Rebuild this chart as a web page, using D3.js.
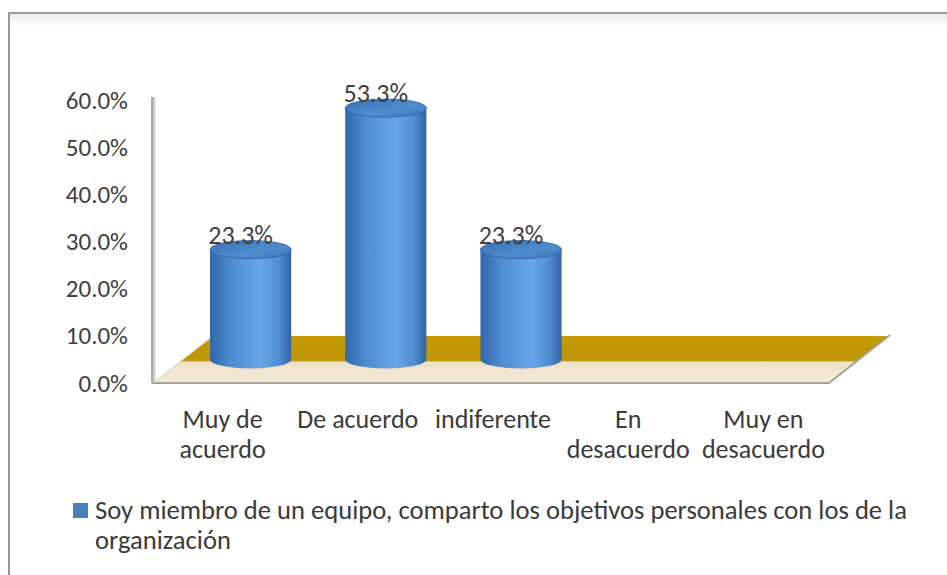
<!DOCTYPE html>
<html>
<head>
<meta charset="utf-8">
<script src="https://cdn.jsdelivr.net/npm/d3@7/dist/d3.min.js"></script>
<style>
  html, body { margin:0; padding:0; background:#fff; }
  svg { display:block; font-family: Carlito, Lato, "Open Sans", sans-serif; }
</style>
</head>
<body>
<svg id="chart" width="947" height="575"></svg>
<script>
// data
const categories = [["Muy de","acuerdo"],["De acuerdo"],["indiferente"],["En","desacuerdo"],["Muy en","desacuerdo"]];
const values = [0.233, 0.533, 0.233, 0, 0];
const yTicks = [0, 0.1, 0.2, 0.3, 0.4, 0.5, 0.6];
const seriesName = ["Soy miembro de un equipo, comparto los objetivos personales con los de la", "organización"];

const svg = d3.select("#chart");
const defs = svg.append("defs");

// frame
const ts = defs.append("linearGradient").attr("id","topShade").attr("x1",0).attr("x2",0).attr("y1",0).attr("y2",1);
ts.append("stop").attr("offset",0).attr("stop-color","#ececec");
ts.append("stop").attr("offset",1).attr("stop-color","#fff");
svg.append("rect").attr("x",9).attr("y",14).attr("width",960).attr("height",14).attr("fill","url(#topShade)");
svg.append("line").attr("x1",8).attr("x2",947).attr("y1",13).attr("y2",13).attr("stroke","#9a9a9a").attr("stroke-width",2);
svg.append("line").attr("x1",9).attr("x2",9).attr("y1",13).attr("y2",575).attr("stroke","#9a9a9a").attr("stroke-width",2);

// scales
const front = { left:153, right:829, y:383 };
const depth = { dx:60, dy:-47 };
const x = d3.scaleBand().domain(d3.range(categories.length)).range([front.left, front.right]);
const y = d3.scaleLinear().domain([0, 0.6]).range([front.y, 100]);

// y axis labels
const yAxis = svg.append("g").attr("transform",`translate(${front.left-1},0)`)
  .call(d3.axisLeft(y).tickValues(yTicks).tickFormat(d3.format(".1%")).tickSize(0).tickPadding(24));
yAxis.select(".domain").remove();
yAxis.selectAll("text").attr("font-size",25).attr("fill","#404040").attr("font-family","Carlito, Lato, sans-serif");

// wall line
svg.append("line").attr("x1",front.left+1).attr("x2",front.left+1).attr("y1",y(0.6)-3).attr("y2",front.y)
  .attr("stroke","#d0d0d0").attr("stroke-width",3);
svg.append("line").attr("x1",front.left-1).attr("x2",front.left-1).attr("y1",y(0.6)-3).attr("y2",front.y)
  .attr("stroke","#8c8c8c").attr("stroke-width",1.5);

// floor
const fg = defs.append("linearGradient").attr("id","floorFill").attr("x1",0).attr("x2",0).attr("y1",0).attr("y2",1);
fg.append("stop").attr("offset",0).attr("stop-color","#c49a05");
fg.append("stop").attr("offset",0.52).attr("stop-color","#bf9507");
fg.append("stop").attr("offset",0.56).attr("stop-color","#ede2c7");
fg.append("stop").attr("offset",1).attr("stop-color","#f3eadb");
const floorPts = [[front.left, front.y],[front.left+depth.dx, front.y+depth.dy],[front.right+depth.dx, front.y+depth.dy],[front.right, front.y]];
svg.append("path").attr("d", d3.line()(floorPts)+"Z").attr("fill","url(#floorFill)");
svg.append("path").attr("d", d3.line()([[front.left-1, front.y],[front.right, front.y],[front.right+depth.dx+1, front.y+depth.dy-1]]))
  .attr("fill","none").attr("stroke","#a3a39b").attr("stroke-width",2);
svg.append("path").attr("d", d3.line()([[front.left, front.y],[front.left+depth.dx, front.y+depth.dy]]))
  .attr("fill","none").attr("stroke","#d8d3c8").attr("stroke-width",1);

// cylinders
const bg = defs.append("linearGradient").attr("id","cylBody").attr("x1",0).attr("x2",1).attr("y1",0).attr("y2",0);
[[0,"#3067aa"],[0.25,"#4d8cd0"],[0.62,"#67a7e6"],[0.85,"#518dd2"],[1,"#3064a4"]].forEach(([o,c])=>bg.append("stop").attr("offset",o).attr("stop-color",c));
const tg = defs.append("linearGradient").attr("id","cylTop").attr("x1",0).attr("x2",1).attr("y1",0).attr("y2",1);
[[0,"#3a72b4"],[0.6,"#4f8bcf"],[1,"#3f78ba"]].forEach(([o,c])=>tg.append("stop").attr("offset",o).attr("stop-color",c));

const rx = x.bandwidth()*0.3, ry = 9;
const off = { dx: depth.dx/2, dy: depth.dy/2 };
const bars = svg.append("g").selectAll("g").data(values.map((v,i)=>({v,i})).filter(d=>d.v>0)).join("g");
bars.each(function(d){
  const g = d3.select(this);
  const cx = x(d.i) + x.bandwidth()/2 + off.dx;
  const yb = y(0) + off.dy, yt = y(d.v) + off.dy;
  g.append("path").attr("d",
    `M${cx-rx},${yt} L${cx-rx},${yb} A${rx},${ry} 0 0 0 ${cx+rx},${yb} L${cx+rx},${yt} Z`)
    .attr("fill","url(#cylBody)");
  g.append("ellipse").attr("cx",cx).attr("cy",yt).attr("rx",rx).attr("ry",ry)
    .attr("fill","url(#cylTop)").attr("stroke","#3569a8").attr("stroke-width",1);
  g.append("text").attr("x",cx-10).attr("y",yt-ry+3).attr("text-anchor","middle")
    .attr("font-size",26).attr("fill","#404040").text(d3.format(".1%")(d.v));
});

// x labels
const xl = svg.append("g").selectAll("text").data(categories).join("text")
  .attr("x",(d,i)=>x(i)+x.bandwidth()/2+2).attr("y",428).attr("text-anchor","middle")
  .attr("font-size",26).attr("fill","#3a3a3a");
xl.selectAll("tspan").data(d=>d).join("tspan")
  .attr("x",function(){ return d3.select(this.parentNode).attr("x"); })
  .attr("dy",(d,i)=>i? 30:0).text(d=>d);

// legend
svg.append("rect").attr("x",73).attr("y",503).attr("width",15).attr("height",15).attr("fill","#4a7fbe");
svg.append("text").attr("x",95).attr("y",519).attr("font-size",26.6).attr("fill","#3a3a3a")
  .selectAll("tspan").data(seriesName).join("tspan").attr("x",95).attr("dy",(d,i)=>i?30:0).text(d=>d);
</script>
</body>
</html>
